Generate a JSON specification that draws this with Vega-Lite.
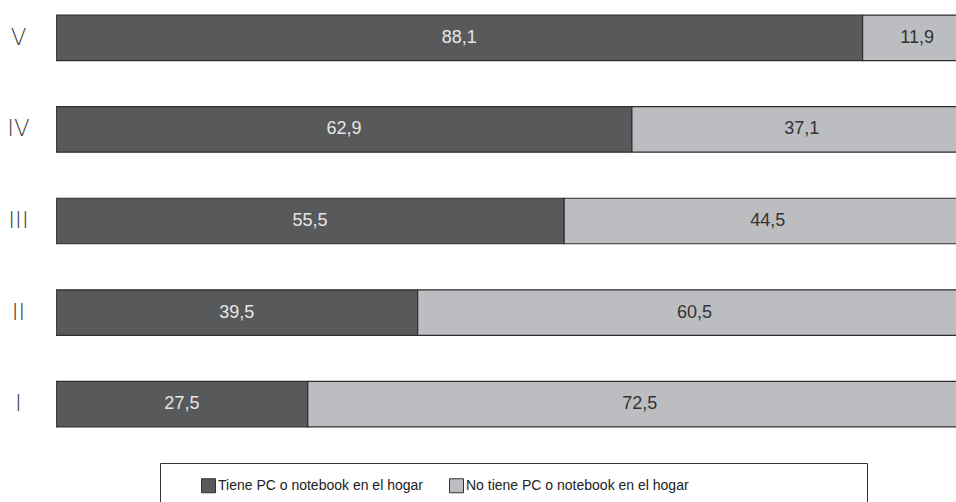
{
  "$schema": "https://vega.github.io/schema/vega-lite/v6.json",
  "autosize": "none",
  "width": 900,
  "height": 430,
  "padding": {"left": 56, "top": 6, "right": 0, "bottom": 66},
  "background": "white",
  "config": {"view": {"stroke": null}, "font": "Liberation Sans, sans-serif"},
  "data": {
    "values": [
      {"quintil": "V", "grupo": "Tiene PC o notebook en el hogar", "orden": 1, "valor": 88.1},
      {"quintil": "V", "grupo": "No tiene PC o notebook en el hogar", "orden": 2, "valor": 11.9},
      {"quintil": "IV", "grupo": "Tiene PC o notebook en el hogar", "orden": 1, "valor": 62.9},
      {"quintil": "IV", "grupo": "No tiene PC o notebook en el hogar", "orden": 2, "valor": 37.1},
      {"quintil": "III", "grupo": "Tiene PC o notebook en el hogar", "orden": 1, "valor": 55.5},
      {"quintil": "III", "grupo": "No tiene PC o notebook en el hogar", "orden": 2, "valor": 44.5},
      {"quintil": "II", "grupo": "Tiene PC o notebook en el hogar", "orden": 1, "valor": 39.5},
      {"quintil": "II", "grupo": "No tiene PC o notebook en el hogar", "orden": 2, "valor": 60.5},
      {"quintil": "I", "grupo": "Tiene PC o notebook en el hogar", "orden": 1, "valor": 27.5},
      {"quintil": "I", "grupo": "No tiene PC o notebook en el hogar", "orden": 2, "valor": 72.5}
    ]
  },
  "transform": [
    {"stack": "valor", "groupby": ["quintil"], "sort": [{"field": "orden"}], "as": ["v0", "v1"]},
    {"calculate": "(datum.v0 + datum.v1) / 2", "as": "mid"},
    {"calculate": "replace(format(datum.valor, '.1f'), '.', ',')", "as": "etiqueta"}
  ],
  "encoding": {
    "y": {
      "field": "quintil",
      "type": "nominal",
      "sort": ["V", "IV", "III", "II", "I"],
      "scale": {"paddingInner": 0.503, "paddingOuter": 0.1},
      "axis": {
        "title": null,
        "domain": false,
        "ticks": false,
        "tickSize": 0,
        "labelPadding": 38,
        "labelAlign": "center",
        "labelBaseline": "middle",
        "labelFont": "DejaVu Sans",
        "labelFontWeight": 200,
        "labelFontSize": 23,
        "labelColor": "#444444"
      }
    }
  },
  "layer": [
    {
      "mark": {"type": "bar", "stroke": "#2e2e2e", "strokeWidth": 1.2, "clip": true},
      "encoding": {
        "x": {"field": "v0", "type": "quantitative", "scale": {"domain": [0, 98.3], "nice": false, "zero": true}, "axis": null},
        "x2": {"field": "v1"},
        "color": {
          "field": "grupo",
          "type": "nominal",
          "scale": {
            "domain": ["Tiene PC o notebook en el hogar", "No tiene PC o notebook en el hogar"],
            "range": ["#58595b", "#bcbdc0"]
          },
          "legend": {
            "orient": "none",
            "legendX": 104,
            "legendY": 457,
            "direction": "horizontal",
            "title": ".............................................",
            "titleOrient": "right",
            "titleColor": "white",
            "titleFont": "Liberation Sans, sans-serif",
            "titleFontSize": 13,
            "titleFontWeight": "normal",
            "titlePadding": 0,
            "titleLimit": 1000,
            "padding": 15,
            "strokeColor": "#333333",
            "fillColor": "white",
            "symbolType": "square",
            "symbolSize": 196,
            "symbolOffset": 26,
            "symbolStrokeColor": "#333333",
            "symbolStrokeWidth": 1,
            "labelFont": "Liberation Sans, sans-serif",
            "labelFontSize": 14,
            "labelColor": "#222222",
            "labelOffset": 2,
            "columnPadding": 0,
            "labelLimit": 1000
          }
        }
      }
    },
    {
      "mark": {"type": "text", "fontSize": 18, "align": "center", "baseline": "middle", "font": "Liberation Sans, sans-serif"},
      "encoding": {
        "x": {"field": "mid", "type": "quantitative"},
        "text": {"field": "etiqueta"},
        "color": {"condition": {"test": "datum.orden == 1", "value": "#e6e6e6"}, "value": "#333333"}
      }
    }
  ]
}
